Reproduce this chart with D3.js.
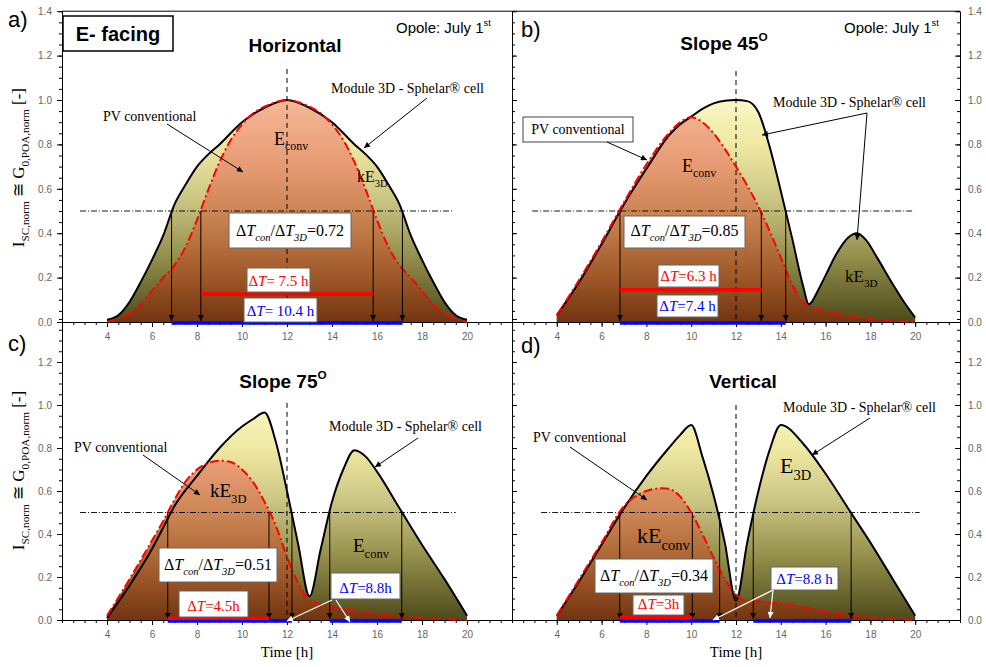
<!DOCTYPE html>
<html>
<head>
<meta charset="utf-8">
<script src="https://d3js.org/d3.v7.min.js"></script>
<style>
body {margin:0; background:#fff;}
.tick text {font-family:"Liberation Sans", Arial, sans-serif; font-size:10px; fill:#666;}
.tick line {stroke:#000;}
.domain {stroke:#000;}
</style>
</head>
<body>
<svg id="chart" width="986" height="667"></svg>
<script>
// ---- data ----
const xTicks = [4, 6, 8, 10, 12, 14, 16, 18, 20];
const yTicks = [0, 0.2, 0.4, 0.6, 0.8, 1.0, 1.2, 1.4];
const yTicksLower = [0, 0.2, 0.4, 0.6, 0.8, 1.0, 1.2];

// a) Horizontal
const hoursA3d = [4, 4.5, 5, 5.5, 6, 6.5, 7, 7.5, 8, 8.5, 9, 10, 11, 12, 13, 14, 15, 15.5, 16, 16.5, 17, 17.5, 18, 18.5, 19, 19.5, 20];
const e3dA     = [0.01, 0.03, 0.09, 0.18, 0.28, 0.39, 0.53, 0.62, 0.70, 0.755, 0.80, 0.90, 0.965, 1.0, 0.965, 0.90, 0.80, 0.755, 0.70, 0.62, 0.53, 0.39, 0.28, 0.18, 0.09, 0.03, 0.01];
const hoursAConv = [4, 4.5, 5, 5.5, 6, 6.5, 7, 7.5, 8, 8.5, 9, 9.5, 10, 10.5, 11, 11.5, 12, 12.5, 13, 13.5, 14, 14.5, 15, 15.5, 16, 16.5, 17, 17.5, 18, 18.5, 19, 19.5, 20];
const convA      = [0, 0.015, 0.04, 0.08, 0.14, 0.2, 0.255, 0.34, 0.46, 0.595, 0.72, 0.82, 0.89, 0.94, 0.97, 0.99, 1.0, 0.99, 0.97, 0.94, 0.89, 0.82, 0.72, 0.595, 0.46, 0.34, 0.255, 0.2, 0.14, 0.08, 0.04, 0.015, 0];
const crossA3d = [6.87, 17.13], crossAConv = [8.17, 15.83];

// b) Slope 45
const hoursB3d = [4, 5, 6, 7, 8, 9, 9.5, 10, 10.5, 11, 11.5, 12, 12.5, 13, 13.5, 14, 14.5, 15, 15.25, 15.7, 16, 16.5, 17, 17.4, 17.8, 18.3, 19, 19.5, 20];
const e3dB     = [0.03, 0.18, 0.35, 0.53, 0.69, 0.84, 0.89, 0.925, 0.96, 0.985, 0.997, 1.0, 0.995, 0.945, 0.79, 0.59, 0.38, 0.16, 0.08, 0.15, 0.21, 0.31, 0.38, 0.40, 0.37, 0.29, 0.17, 0.09, 0.02];
const hoursBConv = [4, 5, 6, 7, 8, 9, 9.5, 10, 10.5, 11, 11.5, 12, 12.5, 13, 13.5, 14, 14.5, 15, 15.3, 16, 17, 18, 19, 20];
const convB      = [0.03, 0.19, 0.36, 0.54, 0.71, 0.85, 0.9, 0.922, 0.9, 0.85, 0.78, 0.70, 0.615, 0.52, 0.41, 0.29, 0.17, 0.09, 0.07, 0.05, 0.03, 0.015, 0.006, 0];
const crossB3d = [6.82, 14.22], crossBConv = [6.82, 13.13];

// c) Slope 75
const hoursC3d = [4, 5, 6, 6.5, 7, 8, 9, 10, 10.5, 11, 11.5, 12, 12.5, 13, 13.5, 14, 14.5, 15, 15.5, 16, 17, 18, 19, 20];
const e3dC     = [0.01, 0.16, 0.33, 0.43, 0.53, 0.67, 0.8, 0.9, 0.935, 0.965, 0.83, 0.6, 0.35, 0.11, 0.33, 0.55, 0.7, 0.79, 0.76, 0.69, 0.52, 0.35, 0.19, 0.02];
const hoursCConv = [4, 5, 6, 6.5, 7, 7.5, 8, 8.5, 9, 9.5, 10, 10.5, 11, 11.5, 12, 12.5, 13, 13.5, 14, 15, 16, 17, 18, 19, 20];
const convC      = [0.02, 0.19, 0.37, 0.46, 0.56, 0.645, 0.7, 0.73, 0.741, 0.735, 0.7, 0.64, 0.55, 0.44, 0.294, 0.17, 0.093, 0.075, 0.063, 0.045, 0.03, 0.02, 0.01, 0.004, 0];
const crossC3d = [6.7, 12.22, 13.9, 17.1], crossCConv = [6.7, 11.2];

// d) Vertical
const hoursD3d = [4, 5, 6, 7, 8, 9, 9.5, 10, 10.5, 11, 11.5, 12, 12.5, 13, 13.5, 14, 15, 16, 17, 18, 19, 20];
const e3dD     = [0.02, 0.18, 0.35, 0.52, 0.67, 0.8, 0.86, 0.907, 0.76, 0.58, 0.36, 0.09, 0.36, 0.6, 0.79, 0.907, 0.82, 0.68, 0.52, 0.36, 0.19, 0.02];
const hoursDConv = [4, 5, 6, 7, 7.5, 8, 8.7, 9, 9.5, 10, 10.5, 11, 11.5, 12, 12.3, 13, 14, 15, 16, 17, 18, 19, 20];
const convD      = [0.02, 0.19, 0.36, 0.53, 0.575, 0.6, 0.613, 0.61, 0.575, 0.5, 0.4, 0.29, 0.19, 0.12, 0.095, 0.088, 0.078, 0.06, 0.04, 0.025, 0.012, 0.005, 0];
const crossD3d = [6.81, 11.27, 12.77, 17.14], crossDConv = [6.81, 10.05];

const ratioLabels = ["0.72", "0.85", "0.51", "0.34"];
const dtConvLabels = ["= 7.5 h", "=6.3 h", "=4.5h", "=3h"];
const dt3dLabels = ["= 10.4 h", "=7.4 h", "=8.8h", "=8.8 h"];

// ---- layout ----
const SERIF = "'Liberation Serif', 'Times New Roman', serif";
const SANS = "'Liberation Sans', Arial, sans-serif";
const cols = [{x0: 62, x1: 512}, {x0: 512, x1: 960}];
const rows = [{yTop: 11.2, yBot: 322}, {yTop: 319, yBot: 620}];

const svg = d3.select("#chart");
const defs = svg.append("defs");

function marker(id, color) {
  defs.append("marker").attr("id", id).attr("viewBox", "0 0 10 10")
    .attr("refX", 10).attr("refY", 5).attr("markerWidth", 8).attr("markerHeight", 6)
    .attr("orient", "auto").attr("markerUnits", "userSpaceOnUse")
    .append("path").attr("d", "M0,0L10,5L0,10z").attr("fill", color);
}
marker("arrK", "#000");
marker("arrW", "#fff");

const stops3d = [[0, "#faf7c4"], [0.2, "#efe9a2"], [0.45, "#cbc584"], [0.7, "#95904c"], [1, "#4c4a1a"]];
const stopsCv = [[0, "#f5b896"], [0.3, "#e69a72"], [0.55, "#c6804e"], [0.8, "#9e5828"], [1, "#723410"]];
function gradient(id, y1, y2, stops) {
  const g = defs.append("linearGradient").attr("id", id).attr("gradientUnits", "userSpaceOnUse")
    .attr("x1", 0).attr("x2", 0).attr("y1", y1).attr("y2", y2);
  stops.forEach(s => g.append("stop").attr("offset", s[0]).attr("stop-color", s[1]));
}
rows.forEach((r, i) => {
  const y = d3.scaleLinear().domain([0, 1.4]).range([r.yBot, r.yTop]);
  gradient("g3d" + i, y(1), y(0), stops3d);
  gradient("gcv" + i, y(1), y(0), stopsCv);
});

// text with sub/superscripts
function rich(g, x, y, parts, size, o = {}) {
  const t = g.append("text").attr("x", x).attr("y", y).attr("font-size", size)
    .attr("font-family", o.family || SERIF).attr("fill", o.fill || "#000")
    .attr("font-weight", o.weight || "normal")
    .attr("text-anchor", o.anchor || "start");
  let shift = 0;
  parts.forEach(p => {
    const s = typeof p === "string" ? {t: p} : p;
    const sp = t.append("tspan").text(s.t);
    let target = 0;
    if (s.sub) { target = size * 0.3; sp.attr("font-size", size * 0.66); }
    if (s.sup) { target = -size * 0.45; sp.attr("font-size", size * 0.62); }
    if (s.it) sp.attr("font-style", "italic");
    if (target !== shift) sp.attr("dy", target - shift);
    shift = target;
  });
  if (o.rotate) t.attr("transform", `rotate(${o.rotate},${x},${y})`);
  return t;
}
function box(g, b, stroke, w) {
  return g.append("rect").attr("x", b[0]).attr("y", b[1]).attr("width", b[2] - b[0]).attr("height", b[3] - b[1])
    .attr("fill", "#fff").attr("stroke", stroke || "#666").attr("stroke-width", w || 1);
}
function arrow(g, a, color, w) {
  g.append("line").attr("x1", a[0]).attr("y1", a[1]).attr("x2", a[2]).attr("y2", a[3])
    .attr("stroke", color || "#000").attr("stroke-width", w || 1)
    .attr("marker-end", color === "#fff" ? "url(#arrW)" : "url(#arrK)");
}

const panels = [
  {label: "a)", labelXY: [8, 27], col: 0, row: 0, title: ["Horizontal"], titleXY: [295, 52],
   h3d: hoursA3d, e3d: e3dA, hcv: hoursAConv, cv: convA, c3d: crossA3d, ccv: crossAConv,
   ref: [2.8, 19.4], vTop: 1.14, redLevel: 0.126, blueSpans: [[0, 1]], redSpans: [[0, 1]],
   ratioBox: [229, 213, 351, 248], redBox: [247, 268, 310, 292], blueBox: [244, 298, 317, 322],
   pvText: [103, 121], pvBox: null, pvArrow: [167, 124, 243, 172],
   modText: [331, 93], modArrows: [[427, 98, 364, 148]],
   eLabels: [{x: 274, y: 145, size: 18, parts: ["E", {t: "conv", sub: 1}]},
             {x: 357, y: 182, size: 16, parts: ["kE", {t: "3D", sub: 1}]}],
   white: []},
  {label: "b)", labelXY: [521, 37], col: 1, row: 0, title: ["Slope 45", {t: "O", sup: 1}], titleXY: [724, 50],
   h3d: hoursB3d, e3d: e3dB, hcv: hoursBConv, cv: convB, c3d: crossB3d, ccv: crossBConv,
   ref: [2.9, 19.9], vTop: 1.13, redLevel: 0.145, blueSpans: [[0, 1]], redSpans: [[0, 1]],
   ratioBox: [624, 216, 745, 248], redBox: [658, 265, 719, 287], blueBox: [657, 295, 718, 317],
   pvText: [578, 134], pvBox: [523, 117, 633, 142], pvArrow: [607, 142, 647, 160],
   modText: [773, 107], modArrows: [[867, 113, 762, 135], [867, 113, 857, 240]],
   eLabels: [{x: 682, y: 172, size: 18, parts: ["E", {t: "conv", sub: 1}]},
             {x: 845, y: 282, size: 17, parts: ["kE", {t: "3D", sub: 1}]}],
   white: []},
  {label: "c)", labelXY: [8, 351], col: 0, row: 1, title: ["Slope 75", {t: "O", sup: 1}], titleXY: [283, 388],
   h3d: hoursC3d, e3d: e3dC, hcv: hoursCConv, cv: convC, c3d: crossC3d, ccv: crossCConv,
   ref: [2.8, 19.5], vTop: 1.01, redLevel: 0.008, blueSpans: [[0, 1], [2, 3]], redSpans: [[0, 1]],
   ratioBox: [159, 548, 277, 582], redBox: [179, 591, 248, 617], blueBox: [331, 573, 400, 599],
   pvText: [74, 452], pvBox: null, pvArrow: [143, 455, 200, 495],
   modText: [329, 431], modArrows: [[418, 438, 375, 467]],
   eLabels: [{x: 210, y: 497, size: 19, parts: ["kE", {t: "3D", sub: 1}]},
             {x: 353, y: 552, size: 19, parts: ["E", {t: "conv", sub: 1}]}],
   white: [[332, 600, 287, 621], [336, 600, 350, 622]]},
  {label: "d)", labelXY: [521, 353], col: 1, row: 1, title: ["Vertical"], titleXY: [743, 388],
   h3d: hoursD3d, e3d: e3dD, hcv: hoursDConv, cv: convD, c3d: crossD3d, ccv: crossDConv,
   ref: [3.3, 20.2], vTop: 1.0, redLevel: 0.01, blueSpans: [[0, 1], [2, 3]], redSpans: [[0, 1]],
   ratioBox: [595, 559, 713, 593], redBox: [633, 595, 684, 615], blueBox: [771, 567, 838, 590],
   pvText: [533, 442], pvBox: null, pvArrow: [570, 447, 647, 500],
   modText: [783, 412], modArrows: [[870, 418, 812, 455]],
   eLabels: [{x: 780, y: 473, size: 22, parts: ["E", {t: "3D", sub: 1}]},
             {x: 637, y: 543, size: 22, parts: ["kE", {t: "conv", sub: 1}]}],
   white: [[773, 590, 713, 620], [773, 590, 770, 618]]}
];

panels.forEach((p, i) => {
  const c = cols[p.col], r = rows[p.row];
  const x = d3.scaleLinear().domain([2, 22]).range([c.x0, c.x1]);
  const y = d3.scaleLinear().domain([0, 1.4]).range([r.yBot, r.yTop]);
  const g = svg.append("g");
  const pts3d = p.h3d.map((h, k) => [h, p.e3d[k]]);
  const ptsCv = p.hcv.map((h, k) => [h, p.cv[k]]);
  const area = d3.area().x(d => x(d[0])).y0(y(0)).y1(d => y(d[1])).curve(d3.curveMonotoneX);
  const line = d3.line().x(d => x(d[0])).y(d => y(d[1])).curve(d3.curveMonotoneX);

  g.append("path").attr("d", area(pts3d)).attr("fill", `url(#g3d${p.row})`);
  g.append("path").attr("d", area(ptsCv)).attr("fill", `url(#gcv${p.row})`);

  // axes
  g.append("g").attr("transform", `translate(0,${r.yBot})`)
    .call(d3.axisBottom(x).tickValues(xTicks).tickSize(5).tickSizeOuter(0).tickPadding(6).tickFormat(d3.format("d")));
  g.append("g").attr("transform", `translate(0,${r.yBot})`)
    .call(d3.axisBottom(x).tickValues(d3.range(2, 22.01, 0.5)).tickSize(3).tickSizeOuter(0).tickFormat(""))
    .select(".domain").remove();
  const yMinor = d3.range(0, 1.401, 0.05);
  const yLab = p.row === 0 ? yTicks : yTicksLower;
  if (p.col === 0) {
    g.append("g").attr("transform", `translate(${c.x0},0)`)
      .call(d3.axisLeft(y).tickValues(yLab).tickSize(5).tickSizeOuter(0).tickPadding(5).tickFormat(d3.format(".1f")));
    g.append("g").attr("transform", `translate(${c.x0},0)`)
      .call(d3.axisLeft(y).tickValues(yMinor).tickSize(3).tickSizeOuter(0).tickFormat(""));
  } else {
    g.append("g").attr("transform", `translate(${c.x0},0)`)
      .call(d3.axisRight(y).tickValues(yTicks).tickSize(5).tickSizeOuter(0).tickFormat(""));
    g.append("g").attr("transform", `translate(${c.x0},0)`)
      .call(d3.axisRight(y).tickValues(yMinor).tickSize(3).tickSizeOuter(0).tickFormat(""));
    g.append("g").attr("transform", `translate(${c.x1},0)`)
      .call(d3.axisRight(y).tickValues(yLab).tickSizeInner(-5).tickSizeOuter(0).tickPadding(8).tickFormat(d3.format(".1f")));
    g.append("g").attr("transform", `translate(${c.x1},0)`)
      .call(d3.axisRight(y).tickValues(yMinor).tickSizeInner(-3).tickSizeOuter(0).tickFormat(""));
  }
  if (p.row === 0) {
    g.append("line").attr("x1", c.x0).attr("x2", c.x1).attr("y1", r.yTop).attr("y2", r.yTop).attr("stroke", "#000");
  }

  // reference lines
  g.append("line").attr("x1", x(p.ref[0])).attr("x2", x(p.ref[1])).attr("y1", y(0.5)).attr("y2", y(0.5))
    .attr("stroke", "#000").attr("stroke-width", 0.9).attr("stroke-dasharray", "6,2,1,2");
  g.append("line").attr("x1", x(12)).attr("x2", x(12)).attr("y1", y(p.vTop)).attr("y2", y(0))
    .attr("stroke", "#000").attr("stroke-width", 1).attr("stroke-dasharray", "5,4");

  // curves
  g.append("path").attr("d", line(pts3d)).attr("fill", "none").attr("stroke", "#000").attr("stroke-width", 2);
  g.append("path").attr("d", line(ptsCv)).attr("fill", "none").attr("stroke", "#f00").attr("stroke-width", 2)
    .attr("stroke-dasharray", "9,3,2,3");

  // half-maximum arrows
  const crosses = Array.from(new Set(p.c3d.concat(p.ccv)));
  crosses.forEach(t => arrow(g, [x(t), y(0.5), x(t), y(0) - 1]));

  // duration bars
  p.blueSpans.forEach(s => g.append("line").attr("x1", x(p.c3d[s[0]])).attr("x2", x(p.c3d[s[1]]))
    .attr("y1", y(0) + 1).attr("y2", y(0) + 1).attr("stroke", "#00f").attr("stroke-width", 3.5));
  p.redSpans.forEach(s => g.append("line").attr("x1", x(p.ccv[s[0]])).attr("x2", x(p.ccv[s[1]]))
    .attr("y1", y(p.redLevel)).attr("y2", y(p.redLevel)).attr("stroke", "#f00").attr("stroke-width", 3.5));

  // boxes with durations
  box(g, p.ratioBox);
  rich(g, (p.ratioBox[0] + p.ratioBox[2]) / 2, p.ratioBox[3] - 12,
    ["Δ", {t: "T", it: 1}, {t: "con", sub: 1, it: 1}, "/Δ", {t: "T", it: 1}, {t: "3D", sub: 1, it: 1}, "=" + ratioLabels[i]],
    16, {anchor: "middle"});
  box(g, p.redBox);
  rich(g, (p.redBox[0] + p.redBox[2]) / 2, p.redBox[3] - 6, ["Δ", {t: "T", it: 1}, dtConvLabels[i]], 15,
    {anchor: "middle", fill: "#f00"});
  box(g, p.blueBox);
  rich(g, (p.blueBox[0] + p.blueBox[2]) / 2, p.blueBox[3] - 6, ["Δ", {t: "T", it: 1}, dt3dLabels[i]], 15,
    {anchor: "middle", fill: "#00f"});
  p.white.forEach(a => arrow(g, a, "#fff", 1.2));

  // annotations
  if (p.pvBox) {
    box(g, p.pvBox, "#444");
    rich(g, p.pvText[0], p.pvText[1], ["PV conventional"], 14, {anchor: "middle"});
  } else {
    rich(g, p.pvText[0], p.pvText[1], ["PV conventional"], 14);
  }
  arrow(g, p.pvArrow);
  rich(g, p.modText[0], p.modText[1], ["Module 3D - Sphelar® cell"], 14);
  p.modArrows.forEach(a => arrow(g, a));
  p.eLabels.forEach(e => rich(g, e.x, e.y, e.parts, e.size));

  // titles and labels
  rich(g, p.titleXY[0], p.titleXY[1], p.title, 19, {family: SANS, weight: "bold", anchor: "middle"});
  rich(g, p.labelXY[0], p.labelXY[1], [p.label], 22, {family: SANS});
  if (p.row === 0) {
    rich(g, c.x1 - 116, 33, ["Opole: July 1", {t: "st", sup: 1}], 15, {family: SANS});
  } else {
    rich(g, x(12), 657, ["Time [h]"], 15, {anchor: "middle"});
  }
  if (p.col === 0) {
    rich(g, 24, (r.yTop + r.yBot) / 2 + 1,
      ["I", {t: "SC,norm", sub: 1}, " ≅ G", {t: "0,POA,norm", sub: 1}, " [-]"], 17,
      {anchor: "middle", rotate: -90});
  }
});

// E-facing box
box(svg, [63, 16, 173, 51], "#000", 1.5);
rich(svg, 118, 41, ["E- facing"], 20, {family: SANS, weight: "bold", anchor: "middle"});
</script>
</body>
</html>
